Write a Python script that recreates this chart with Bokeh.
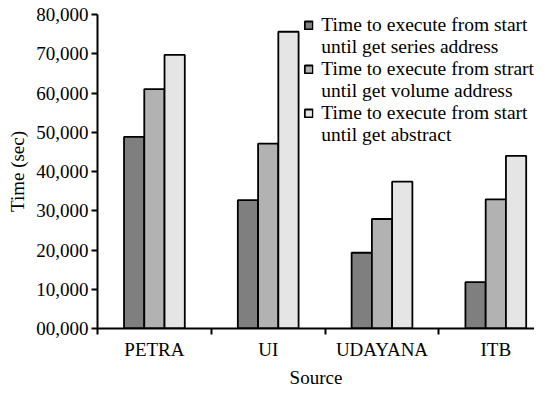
import numpy as np
from bokeh.plotting import figure
from bokeh.models import (ColumnDataSource, Range1d, FixedTicker, Legend, LegendItem)
from bokeh.transform import dodge
from bokeh.embed import file_html
from bokeh.resources import INLINE

# ---- data ----
categories = ["PETRA", "UI", "UDAYANA", "ITB"]
series_address = [48800, 32700, 19300, 11800]
volume_address = [61000, 47100, 27900, 32900]
abstract = [69700, 75600, 37400, 44000]
series_first_lines = [
    "Time to execute from start",
    "Time to execute from strart",
    "Time to execute from start",
]
series_second_lines = [
    "until get series address",
    "until get volume address",
    "until get abstract",
]
y_tick_values = [0, 10000, 20000, 30000, 40000, 50000, 60000, 70000, 80000]
y_tick_labels = ["00,000", "10,000", "20,000", "30,000", "40,000",
                 "50,000", "60,000", "70,000", "80,000"]
colors = ["#7f7f7f", "#b2b2b2", "#e5e5e5"]

centers = list(np.arange(len(categories)) + 0.5)
src = ColumnDataSource(dict(xc=centers, s=series_address, v=volume_address, a=abstract))

FONT = "'Liberation Serif'"

p = figure(width=534, height=390, x_range=Range1d(0, 3.84), y_range=Range1d(0, 80000),
           output_backend="svg", toolbar_location=None,
           min_border_left=97, min_border_right=0, min_border_top=14, min_border_bottom=57)
p.grid.visible = False
p.outline_line_color = None
p.background_fill_color = "white"

bw = 0.178
renderers = []
for field, off, col in zip(["s", "v", "a"], [-bw, 0.0, bw], colors):
    r = p.vbar(x=dodge("xc", off, range=p.x_range), top=field, width=bw, source=src,
               fill_color=col, line_color="black", line_width=1.8)
    renderers.append(r)

# x axis
xa = p.xaxis[0]
xa.ticker = FixedTicker(ticks=centers, minor_ticks=list(range(0, len(categories) + 1)))
xa.major_label_overrides = {c: n for c, n in zip(centers, categories)}
xa.major_tick_line_color = None
xa.major_tick_out = 6
xa.major_tick_in = 0
xa.minor_tick_out = 6
xa.minor_tick_in = 0
xa.minor_tick_line_width = 2
xa.minor_tick_line_color = "black"
xa.axis_line_width = 2
xa.axis_line_color = "black"
xa.major_label_standoff = 4
xa.major_label_text_font = FONT
xa.major_label_text_font_size = "19px"
xa.major_label_text_color = "black"
xa.axis_label = "Source"
xa.axis_label_text_font = FONT
xa.axis_label_text_font_size = "19px"
xa.axis_label_text_font_style = "normal"
xa.axis_label_text_color = "black"
xa.axis_label_standoff = 4

# y axis
ya = p.yaxis[0]
ya.ticker = FixedTicker(ticks=y_tick_values, minor_ticks=[])
ya.major_label_overrides = {v: l for v, l in zip(y_tick_values, y_tick_labels)}
ya.major_tick_out = 6
ya.major_tick_in = 0
ya.major_tick_line_width = 2
ya.major_tick_line_color = "black"
ya.axis_line_width = 2
ya.axis_line_color = "black"
ya.major_label_standoff = 3
ya.major_label_text_font = FONT
ya.major_label_text_font_size = "19px"
ya.major_label_text_color = "black"
ya.axis_label = "Time (sec)"
ya.axis_label_text_font = FONT
ya.axis_label_text_font_size = "19px"
ya.axis_label_text_font_style = "normal"
ya.axis_label_text_color = "black"
ya.axis_label_standoff = 5

items = []
for first, second, r in zip(series_first_lines, series_second_lines, renderers):
    items.append(LegendItem(label=first, renderers=[r]))
    items.append(LegendItem(label=second, renderers=[]))
legend = Legend(items=items, location="top_right")
legend.background_fill_alpha = 0
legend.border_line_color = None
legend.label_text_font = FONT
legend.label_text_font_size = "19.5px"
legend.label_text_color = "black"
legend.label_height = 21
legend.glyph_width = 10
legend.glyph_height = 10
legend.label_standoff = 8
legend.spacing = 0
legend.padding = 0
legend.margin = 0
p.add_layout(legend)

open("out.html", "w").write(file_html(p, INLINE))
